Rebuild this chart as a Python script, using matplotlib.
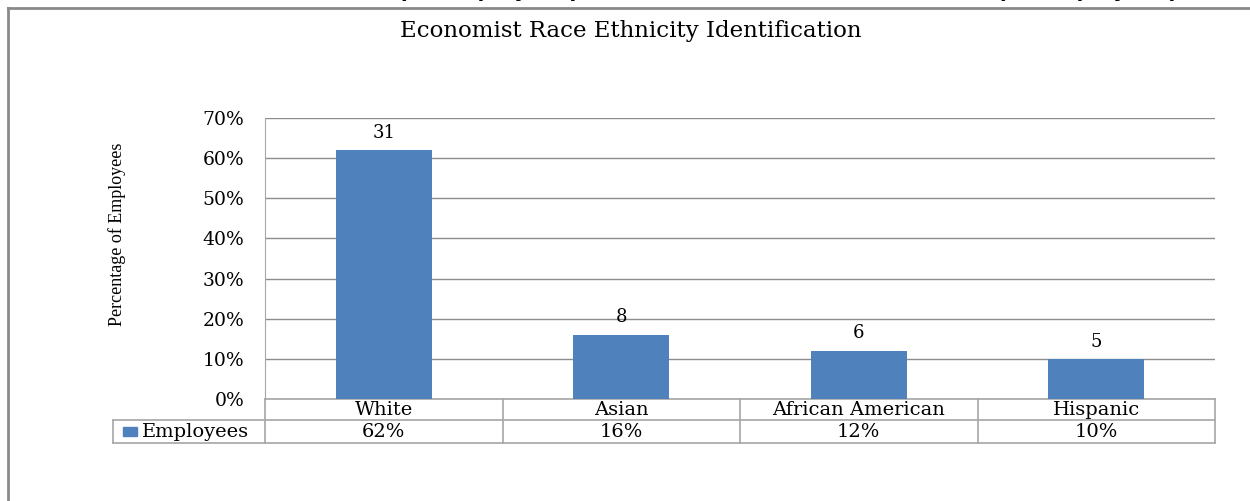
import matplotlib
matplotlib.use("Agg")
import matplotlib.pyplot as plt
from matplotlib.ticker import PercentFormatter, MultipleLocator
from matplotlib.lines import Line2D
from matplotlib.patches import Rectangle
import matplotlib.transforms as mtransforms

# Data
categories = ["White", "Asian", "African American", "Hispanic"]
share = [0.62, 0.16, 0.12, 0.10]
counts = [31, 8, 6, 5]
share_labels = ["62%", "16%", "12%", "10%"]
series_name = "Employees"
title = "Economist Race Ethnicity Identification"
ylabel = "Percentage of Employees"

W, H = 1250, 501
BAR = "#4F81BD"
GRID = "#8C8C8C"
TBL = "#A6A6A6"
WIDE = "DejaVu Serif"
SERIF = "Liberation Serif"

fig = plt.figure(figsize=(W / 100, H / 100), dpi=100)
fig.patch.set_facecolor("white")


def fx(px):
    return px / W


def fy(py):
    return 1 - py / H


# Surrounding frame of the chart object
fig.add_artist(Line2D([fx(8), fx(8)], [fy(8), fy(501)], color="#8A8A8A", lw=2))
fig.add_artist(Line2D([fx(8), fx(1250)], [fy(8), fy(8)], color="#8A8A8A", lw=2))

# Line of document text above the chart, cut by the page edge
for x0, s in [(398, "(16 employees)"), (997, "(19 employees)")]:
    fig.text(fx(x0), fy(-4), s, fontsize=18, fontweight="bold",
             family="Liberation Sans", va="baseline", ha="left")

ax = fig.add_axes([fx(265), fy(399), fx(1215) - fx(265), fy(118) - fy(399)])
x = list(range(len(categories)))
ax.bar(x, share, width=0.405, color=BAR, zorder=3)
ax.set_xlim(-0.5, len(categories) - 0.5)
ax.set_ylim(0, 0.70)
ax.yaxis.set_major_locator(MultipleLocator(0.10))
ax.yaxis.set_major_formatter(PercentFormatter(1.0, decimals=0))
ax.grid(axis="y", color=GRID, lw=1, zorder=0)
ax.set_xticks([])
for side in ["top", "right", "bottom"]:
    ax.spines[side].set_visible(False)
ax.spines["left"].set_color(TBL)
ax.tick_params(axis="y", length=0, pad=15, labelsize=13.5)
for lab in ax.get_yticklabels():
    lab.set_family(WIDE)

for xi, v, c in zip(x, share, counts):
    ax.annotate(str(c), (xi, v), xytext=(0, 6), textcoords="offset points",
                ha="center", va="bottom", fontsize=13, family=WIDE)

fig.text(fx(631), fy(31), title, ha="center", va="center", fontsize=16.5, family=WIDE)
fig.text(fx(117), fy(234), ylabel, ha="center", va="center", rotation=90,
         fontsize=13, family=SERIF)

# Data table under the plot
tr = mtransforms.blended_transform_factory(ax.transData, ax.transAxes)
r1 = -(420 - 399) / (399 - 118)
r2 = -(443 - 399) / (399 - 118)
left_ax = (113 - 265) / (1215 - 265)
tbl_kw = dict(color=TBL, lw=1.2, clip_on=False)
ax.add_line(Line2D([-0.5, len(categories) - 0.5], [0, 0], transform=tr, **tbl_kw))
ax.plot([left_ax, 1], [r1, r1], transform=ax.transAxes, **tbl_kw)
ax.plot([left_ax, 1], [r2, r2], transform=ax.transAxes, **tbl_kw)
ax.plot([left_ax, left_ax], [r1, r2], transform=ax.transAxes, **tbl_kw)
ax.plot([0, 0], [0, r2], transform=ax.transAxes, **tbl_kw)
for b in range(1, len(categories) + 1):
    ax.plot([b - 0.5, b - 0.5], [0, r2], transform=tr, **tbl_kw)

for xi, cat, sl in zip(x, categories, share_labels):
    ax.text(xi, r1 / 2 - 0.003, cat, transform=tr, ha="center", va="center",
            fontsize=14, family=WIDE)
    ax.text(xi, (r1 + r2) / 2 - 0.003, sl, transform=tr, ha="center", va="center",
            fontsize=14, family=WIDE)

# Legend key in the row header
key_h = 0.03
ax.add_patch(Rectangle((left_ax + 0.010, (r1 + r2) / 2 - key_h / 2), 0.015, key_h,
                       transform=ax.transAxes, color=BAR, clip_on=False))
ax.text(left_ax + 0.030, (r1 + r2) / 2 - 0.003, series_name, transform=ax.transAxes,
        ha="left", va="center", fontsize=14, family=WIDE)

fig.savefig("out.png", dpi=100, facecolor="white")
